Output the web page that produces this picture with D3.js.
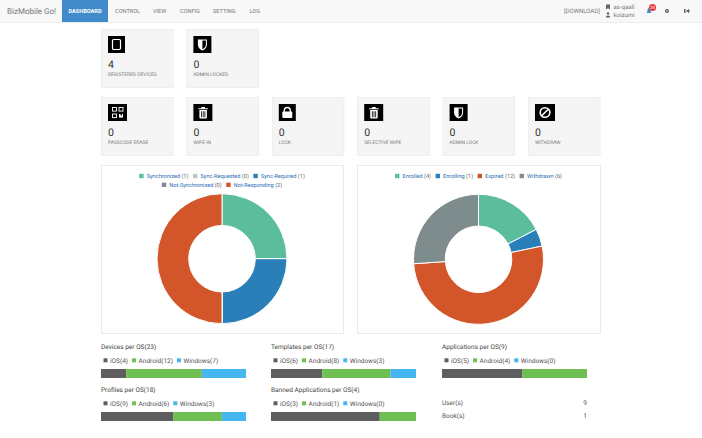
<!DOCTYPE html>
<html>
<head>
<meta charset="utf-8">
<script src="https://cdn.jsdelivr.net/npm/d3@7"></script>
<style>
html, body { margin: 0; padding: 0; background: #fff; }
svg { display: block; }
text { font-family: Roboto, sans-serif; text-rendering: geometricPrecision; }
</style>
</head>
<body>
<div id="chart"></div>
<script>
// nav
var navItems = ["DASHBOARD", "CONTROL", "VIEW", "CONFIG", "SETTING", "LOG"];

// summary tiles
var tileTopLabels = ["REGISTERED DEVICES", "ADMIN LOCKED"];
var tileTopValues = [4, 0];
var tileTopIcons = ["tablet", "shield"];
var tileLabels = ["PASSCODE ERASE", "WIPE IN", "LOCK", "SELECTIVE WIPE", "ADMIN LOCK", "WITHDRAW"];
var tileValues = [0, 0, 0, 0, 0, 0];
var tileIcons = ["qr", "trash", "lock", "trash", "shield", "ban"];

// donuts
var syncNames = ["Synchronized", "Sync-Requested", "Sync-Required", "Not-Synchronized", "Not-Responding"];
var syncValues = [1, 0, 1, 0, 2];
var syncColors = ["#5cbd9d", "#bdc3c7", "#2b7fb8", "#7f8c8d", "#d2562a"];
var enrollNames = ["Enrolled", "Enrolling", "Expired", "Withdrawn"];
var enrollValues = [4, 1, 12, 6];
var enrollColors = ["#5cbd9d", "#2b7fb8", "#d2562a", "#7f8c8d"];

// per OS bars
var osNames = ["iOS", "Android", "Windows"];
var osColors = ["#5e5e5e", "#70bf53", "#45b6f0"];
var osTitles = ["Devices per OS", "Templates per OS", "Applications per OS", "Profiles per OS", "Banned Applications per OS"];
var iosCounts = [4, 6, 5, 9, 3];
var androidCounts = [12, 8, 4, 6, 1];
var windowsCounts = [7, 3, 0, 3, 0];

// bottom counters
var counterNames = ["User(s)", "Book(s)"];
var counterValues = [9, 1];

var width = 702, height = 438;
var svg = d3.select("#chart").append("svg").attr("width", width).attr("height", height);

// Nav bar
svg.append("rect").attr("width", width).attr("height", 22).attr("fill", "#f8f8f8");
svg.append("rect").attr("y", 22).attr("width", width).attr("height", 1).attr("fill", "#ececec");
svg.append("text").attr("x", 7).attr("y", 14).attr("font-size", 8).attr("fill", "#777").text("BizMobile Go!");
svg.append("rect").attr("x", 62).attr("width", 46).attr("height", 22).attr("fill", "#428bca");
var navX = [68.5, 115, 153, 180, 213, 249.5];
navItems.forEach(function (d, i) {
    svg.append("text").attr("x", navX[i]).attr("y", 13)
        .attr("font-size", 5.6).attr("font-weight", i == 0 ? 700 : 400)
        .attr("fill", i == 0 ? "#fff" : "#777").text(d);
});

// Top right of nav
svg.append("text").attr("x", 564).attr("y", 12.5).attr("font-size", 6).attr("fill", "#777").text("[DOWNLOAD]");
svg.append("path").attr("d", "M606 4.5h4v5l-2-1.3l-2 1.3z").attr("fill", "#666");
svg.append("text").attr("x", 613.5).attr("y", 8.8).attr("font-size", 6).attr("fill", "#777").text("as-qaall");
svg.append("circle").attr("cx", 608).attr("cy", 13.5).attr("r", 1.3).attr("fill", "#666");
svg.append("path").attr("d", "M606 17.5v-1.2q2-1.6 4 0v1.2z").attr("fill", "#666");
svg.append("text").attr("x", 613.5).attr("y", 17.3).attr("font-size", 6).attr("fill", "#777").text("koizumi");
svg.append("path").attr("d", "M646.5 13q1-.8 1-3q0-2 1.5-2t1.5 2q0 2.2 1 3z").attr("fill", "#428bca");
svg.append("circle").attr("cx", 652.5).attr("cy", 7.5).attr("r", 3.6).attr("fill", "#e5343d");
svg.append("text").attr("x", 652.5).attr("y", 9.3).attr("text-anchor", "middle").attr("font-size", 4.5).attr("fill", "#fff").text("24");
svg.append("circle").attr("cx", 667).attr("cy", 11).attr("r", 1.4).attr("fill", "none").attr("stroke", "#555").attr("stroke-width", 1.2);
svg.append("path").attr("d", "M684 9h1.5v4h-1.5zM686.5 10h1.5v-1.5l2 2.5l-2 2.5v-1.5h-1.5z").attr("fill", "#666");

// Icon glyphs are white shapes on a black box, drawn in a 17 unit box
function drawIcon(g, name, w) {
    g.append("rect").attr("width", w).attr("height", 17).attr("fill", "#000");
    var c = g.append("g").attr("transform", "translate(" + (w - 17) / 2 + ",0)");
    if (name == "tablet") {
        c.append("rect").attr("x", 4.5).attr("y", 3.5).attr("width", 8).attr("height", 10).attr("rx", 1.2)
            .attr("fill", "none").attr("stroke", "#fff").attr("stroke-width", 1.2);
    } else if (name == "shield") {
        c.append("path").attr("d", "M4 3.5h9v5q0 4-4.5 6q-4.5-2-4.5-6z").attr("fill", "#fff");
        c.append("path").attr("d", "M8.5 4.5h3.5v4q0 3-3.5 4.8z").attr("fill", "#000");
    } else if (name == "qr") {
        [[3.5, 3.5], [10, 3.5], [3.5, 10]].forEach(function (p) {
            c.append("rect").attr("x", p[0]).attr("y", p[1]).attr("width", 4).attr("height", 3.6)
                .attr("fill", "none").attr("stroke", "#fff").attr("stroke-width", 0.9);
        });
        c.append("path").attr("d", "M10 10h1.5v1.5h1.5v-1.5h1v3.5h-4z").attr("fill", "#fff");
    } else if (name == "trash") {
        c.append("path").attr("d", "M5 6h7.5v7.5q0 1-1 1h-5.5q-1 0-1-1z").attr("fill", "#fff");
        c.append("path").attr("d", "M4 4.2h9.5v1h-9.5zM7 3h3.5v1.2h-3.5z").attr("fill", "#fff");
        c.append("path").attr("d", "M6.7 7.2h.8v6h-.8zM8.4 7.2h.8v6h-.8zM10.1 7.2h.8v6h-.8z").attr("fill", "#000");
    } else if (name == "lock") {
        c.append("rect").attr("x", 3.5).attr("y", 7.5).attr("width", 10).attr("height", 6.5).attr("rx", 1).attr("fill", "#fff");
        c.append("path").attr("d", "M5.5 8v-1.5a3 3 0 0 1 6 0v1.5").attr("fill", "none").attr("stroke", "#fff").attr("stroke-width", 1.3);
    } else if (name == "ban") {
        c.append("circle").attr("cx", 8.5).attr("cy", 8.5).attr("r", 4.8).attr("fill", "none").attr("stroke", "#fff").attr("stroke-width", 1.6);
        c.append("path").attr("d", "M5.2 11.8L11.8 5.2").attr("stroke", "#fff").attr("stroke-width", 1.6);
    }
}

function drawTile(x, y, label, value, icon, iconW) {
    var g = svg.append("g").attr("transform", "translate(" + x + "," + y + ")");
    g.append("rect").attr("x", 0.5).attr("y", 0.5).attr("width", 71.5).attr("height", 58)
        .attr("fill", "#f5f5f5").attr("stroke", "#eeeeee");
    drawIcon(g.append("g").attr("transform", "translate(7,7)"), icon, iconW);
    g.append("text").attr("x", 7).attr("y", 39).attr("font-size", 10.5).attr("fill", "#333").text(value);
    g.append("text").attr("x", 7).attr("y", 46.5).attr("font-size", 4.9).attr("fill", "#777").text(label);
}

var tileX = d3.scalePoint().domain(d3.range(6)).range([101, 528]);
tileTopLabels.forEach(function (d, i) {
    drawTile(tileX(i), 29, d, tileTopValues[i], tileTopIcons[i], i == 0 ? 17 : 18);
});
var rowIconW = [19, 19, 17, 19, 18, 20];
tileLabels.forEach(function (d, i) {
    drawTile(tileX(i), 97, d, tileValues[i], tileIcons[i], rowIconW[i]);
});

// Donut panel with a centered wrapped legend
function drawDonut(x, w, names, values, colors, rows, cy) {
    var g = svg.append("g").attr("transform", "translate(" + x + ",165)");
    g.append("rect").attr("x", 0.5).attr("y", 0.5).attr("width", w).attr("height", 168)
        .attr("fill", "#fff").attr("stroke", "#ebebeb");

    rows.forEach(function (row, r) {
        var rowG = g.append("g");
        var cursor = 0;
        row.forEach(function (k) {
            rowG.append("rect").attr("x", cursor).attr("y", -2.2).attr("width", 4.4).attr("height", 4.4).attr("fill", colors[k]);
            var t = rowG.append("text").attr("x", cursor + 7.5).attr("y", 2.1).attr("font-size", 5.6);
            t.append("tspan").attr("fill", "#2a6db5").text(names[k]);
            t.append("tspan").attr("fill", "#666").text(" (" + values[k] + ")");
            cursor += 7.5 + t.node().getComputedTextLength() + 4.5;
        });
        rowG.attr("transform", "translate(" + (w - cursor + 4.5) / 2 + "," + (11 + r * 8.8) + ")");
    });

    var pie = d3.pie().sort(null);
    var arc = d3.arc().innerRadius(33.3).outerRadius(65);
    g.append("g").attr("transform", "translate(" + (w / 2) + "," + cy + ")")
        .selectAll("path")
        .data(pie(values))
        .enter()
        .append("path")
        .attr("d", arc)
        .attr("fill", function (d, i) { return colors[i]; })
        .attr("stroke", "#fff")
        .attr("stroke-width", 1);
}

drawDonut(101, 242, syncNames, syncValues, syncColors, [[0, 1, 2], [3, 4]], 93.7);
drawDonut(357, 243, enrollNames, enrollValues, enrollColors, [[0, 1, 2, 3]], 94.3);

// Stacked OS bars
function drawOsBar(x, y, title, counts) {
    var total = d3.sum(counts);
    var g = svg.append("g").attr("transform", "translate(" + x + "," + y + ")");
    g.append("text").attr("x", 0).attr("y", 2.2).attr("font-size", 6.5).attr("fill", "#444").text(title + "(" + total + ")");

    var cursor = 2.5;
    osNames.forEach(function (n, i) {
        g.append("rect").attr("x", cursor).attr("y", 11.3).attr("width", 4).attr("height", 4).attr("fill", osColors[i]);
        var t = g.append("text").attr("x", cursor + 6.5).attr("y", 15.6).attr("font-size", 6.5).attr("fill", "#555")
            .text(n + "(" + counts[i] + ")");
        cursor += 6.5 + t.node().getComputedTextLength() + 4;
    });

    var xScale = d3.scaleLinear().domain([0, total]).range([0, 145]);
    var row = {};
    osNames.forEach(function (n, i) { row[n] = counts[i]; });
    g.selectAll("rect.seg")
        .data(d3.stack().keys(osNames)([row]))
        .enter()
        .append("rect")
        .attr("class", "seg")
        .attr("x", function (d) { return xScale(d[0][0]); })
        .attr("y", 22)
        .attr("width", function (d) { return xScale(d[0][1]) - xScale(d[0][0]); })
        .attr("height", 9)
        .attr("fill", function (d, i) { return osColors[i]; });
}

var osX = [101, 271, 442, 101, 271];
var osY = [347, 347, 347, 390, 390];
osTitles.forEach(function (d, i) {
    drawOsBar(osX[i], osY[i], d, [iosCounts[i], androidCounts[i], windowsCounts[i]]);
});

// Users and books
var counterY = [405.2, 418];
counterNames.forEach(function (d, i) {
    svg.append("text").attr("x", 442).attr("y", counterY[i]).attr("font-size", 6.5).attr("fill", "#555").text(d);
    svg.append("text").attr("x", 587).attr("y", counterY[i]).attr("text-anchor", "end").attr("font-size", 6.5).attr("fill", "#444").text(counterValues[i]);
});
</script>
</body>
</html>
